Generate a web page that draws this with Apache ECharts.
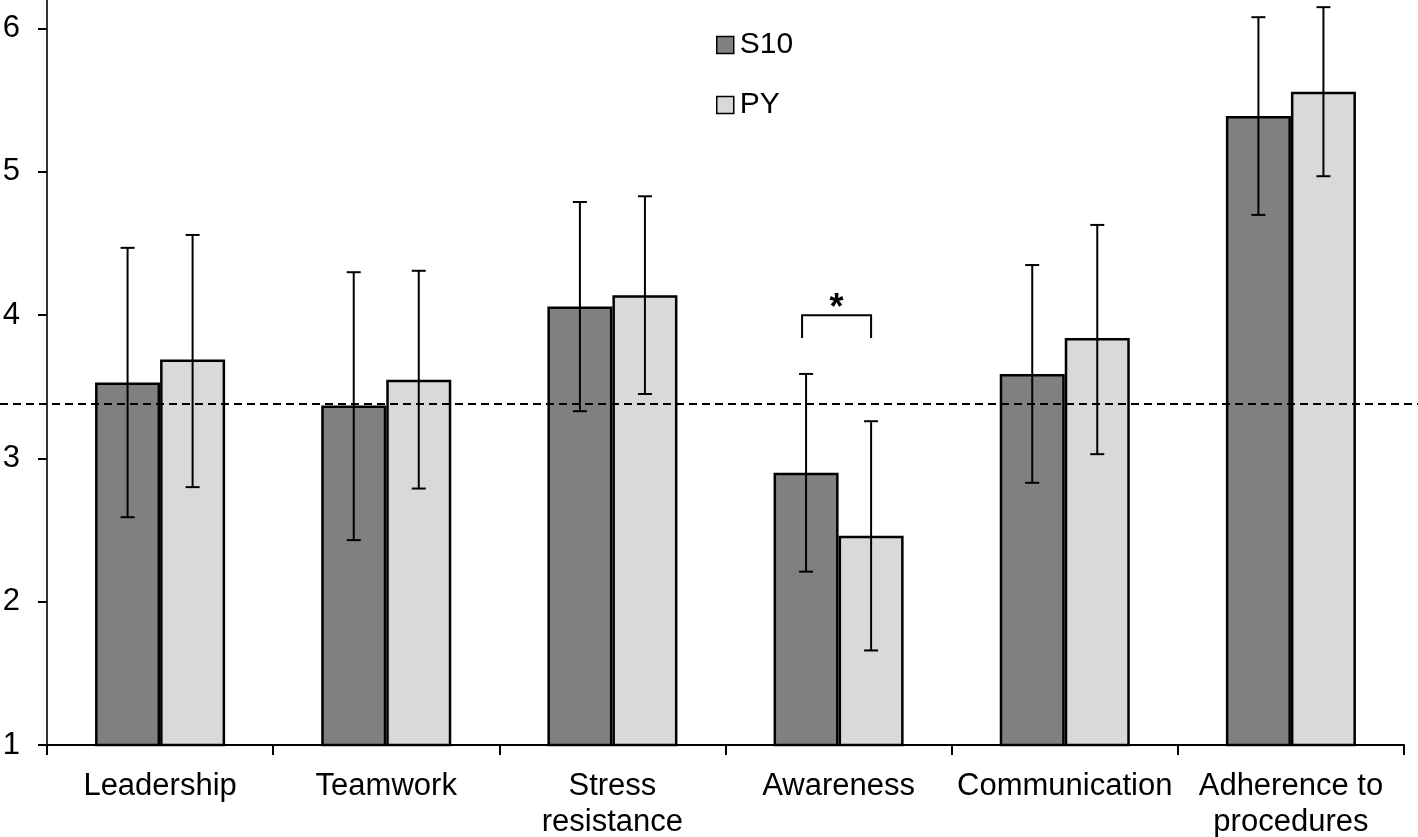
<!DOCTYPE html>
<html>
<head>
<meta charset="utf-8">
<script src="https://cdn.jsdelivr.net/npm/echarts@6/dist/echarts.min.js"></script>
<style>
html,body{margin:0;padding:0;background:#fff;}
#chart{width:1418px;height:837px;}
</style>
</head>
<body>
<div id="chart"></div>
<script>
const categories = ['Leadership', 'Teamwork', 'Stress\nresistance', 'Awareness', 'Communication', 'Adherence to\nprocedures'];
const seriesNames = ['S10', 'PY'];
const s10Mean  = [3.53, 3.37, 4.06, 2.90, 3.59, 5.39];
const s10Upper = [4.47, 4.30, 4.79, 3.59, 4.35, 6.08];
const s10Lower = [2.59, 2.43, 3.33, 2.21, 2.83, 4.70];
const pyMean   = [3.69, 3.55, 4.14, 2.46, 3.84, 5.56];
const pyUpper  = [4.56, 4.31, 4.83, 3.26, 4.63, 6.15];
const pyLower  = [2.80, 2.79, 3.45, 1.66, 3.03, 4.97];
const yTicks = [1, 2, 3, 4, 5, 6];
const referenceLevel = 3.38;
const bracketCategory = 3;
const bracketTop = 4.00;
const bracketLegEnd = 3.84;
const bracketMark = '*';

const FONT = '"Liberation Sans", Arial, sans-serif';
const GAP = 0.425;
const OFF = (1 - GAP) / 4;

function errRender(sign) {
  return function (params, api) {
    const idx = api.value(0);
    const lo = api.coord([idx, api.value(1)]);
    const hi = api.coord([idx, api.value(2)]);
    const bw = api.size([1, 0])[0];
    const x = lo[0] + sign * bw * OFF;
    const cap = 7;
    const style = { stroke: '#000', lineWidth: 2 };
    return {
      type: 'group',
      children: [
        { type: 'line', shape: { x1: x, y1: hi[1], x2: x, y2: lo[1] }, style: style },
        { type: 'line', shape: { x1: x - cap, y1: hi[1], x2: x + cap, y2: hi[1] }, style: style },
        { type: 'line', shape: { x1: x - cap, y1: lo[1], x2: x + cap, y2: lo[1] }, style: style }
      ]
    };
  };
}

const chart = echarts.init(document.getElementById('chart'), null, { renderer: 'canvas' });
chart.setOption({
  animation: false,
  backgroundColor: '#fff',
  textStyle: { fontFamily: FONT },
  grid: { left: 47, right: 14, top: 0, bottom: 92, containLabel: false, outerBoundsMode: 'none' },
  legend: {
    data: seriesNames,
    orient: 'vertical',
    left: 716,
    top: 30,
    padding: 0,
    itemWidth: 17,
    itemHeight: 17,
    itemGap: 30,
    icon: 'rect',
    itemStyle: { borderColor: '#000', borderWidth: 1.5 },
    textStyle: { fontSize: 30, lineHeight: 29, color: '#000', fontFamily: FONT, padding: [0, 0, 0, 1] }
  },
  xAxis: {
    type: 'category',
    data: categories,
    axisLine: { lineStyle: { color: '#000', width: 2 } },
    axisTick: { show: true, alignWithLabel: false, length: 10, lineStyle: { color: '#000', width: 2 } },
    axisLabel: { fontSize: 31, lineHeight: 36, color: '#000', margin: 23, interval: 0, fontFamily: FONT },
    splitLine: { show: false }
  },
  yAxis: {
    type: 'value',
    min: 1,
    max: 6.2,
    interval: 1,
    axisLine: { show: true, lineStyle: { color: '#333', width: 2 } },
    axisTick: { show: true, length: 9, lineStyle: { color: '#000', width: 2 } },
    axisLabel: {
      fontSize: 31, color: '#000', margin: 27, fontFamily: FONT, showMaxLabel: false,
      formatter: function (v) { return yTicks.indexOf(v) >= 0 ? String(v) : ''; }
    },
    splitLine: { show: false }
  },
  series: [
    {
      name: 'S10', type: 'bar', data: s10Mean,
      barGap: '0%', barCategoryGap: (GAP * 100) + '%',
      itemStyle: { color: '#808080', borderColor: '#000', borderWidth: 2.5 },
      z: 2
    },
    {
      name: 'PY', type: 'bar', data: pyMean,
      barGap: '0%', barCategoryGap: (GAP * 100) + '%',
      itemStyle: { color: '#d9d9d9', borderColor: '#000', borderWidth: 2.5 },
      z: 2
    },
    {
      name: 'refLine', type: 'custom', clip: false, z: 5,
      data: [[0, referenceLevel]],
      renderItem: function (params, api) {
        const p = api.coord([0, api.value(1)]);
        return {
          type: 'line',
          shape: { x1: 0, y1: p[1], x2: api.getWidth(), y2: p[1] },
          style: { stroke: '#000', lineWidth: 2, lineDash: [8, 5] }
        };
      }
    },
    {
      name: 'errS10', type: 'custom', clip: false, z: 6,
      data: categories.map((c, i) => [i, s10Lower[i], s10Upper[i]]),
      renderItem: errRender(-1)
    },
    {
      name: 'errPY', type: 'custom', clip: false, z: 6,
      data: categories.map((c, i) => [i, pyLower[i], pyUpper[i]]),
      renderItem: errRender(1)
    },
    {
      name: 'bracket', type: 'custom', clip: false, z: 6,
      data: [[bracketCategory, bracketTop, bracketLegEnd]],
      renderItem: function (params, api) {
        const idx = api.value(0);
        const t = api.coord([idx, api.value(1)]);
        const b = api.coord([idx, api.value(2)]);
        const bw = api.size([1, 0])[0];
        const xl = t[0] - bw * OFF - 4;
        const xr = t[0] + bw * OFF;
        return {
          type: 'group',
          children: [
            { type: 'polyline', shape: { points: [[xl, b[1]], [xl, t[1]], [xr, t[1]], [xr, b[1]]] },
              style: { stroke: '#000', lineWidth: 2, fill: null } },
            { type: 'text', style: { text: bracketMark, x: (xl + xr) / 2, y: t[1] + 12, align: 'center', verticalAlign: 'bottom',
              fontSize: 36, fontWeight: 'bold', fontFamily: FONT, fill: '#000' } }
          ]
        };
      }
    }
  ]
});
</script>
</body>
</html>
